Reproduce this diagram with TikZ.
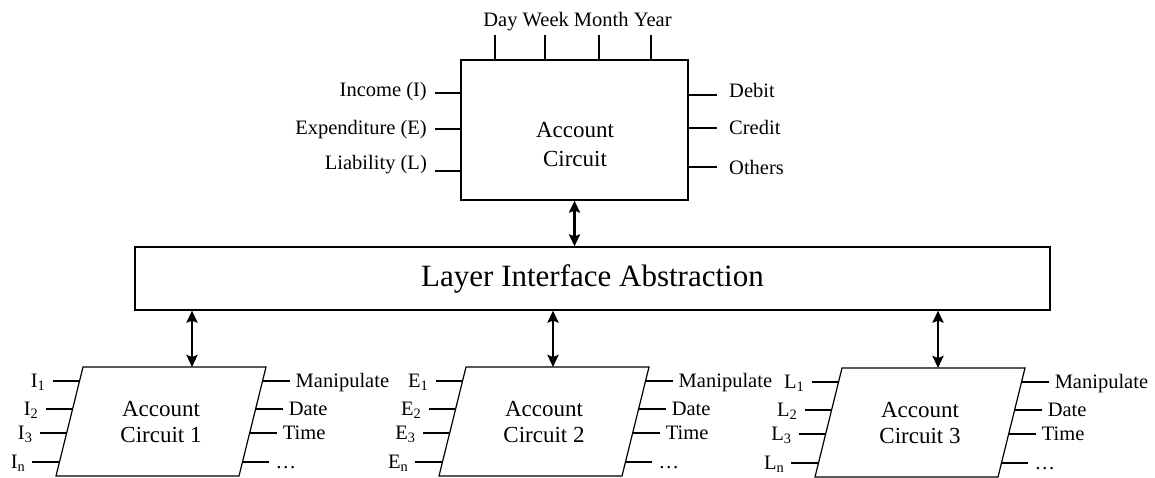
\documentclass[tikz,border=0pt]{standalone}
\usepackage{fontspec}
\setmainfont{Liberation Serif}
\usetikzlibrary{calc,arrows.meta}
\begin{document}
\begin{tikzpicture}[x=1pt,y=-1pt,
  box/.style={draw,line width=1.2pt,inner sep=0pt},
  wire/.style={line width=1.2pt},
  tip/.style={Stealth[length=12pt,width=11pt,inset=2pt]},
  link/.style={line width=2.5pt,{Stealth[length=12pt,width=11pt,inset=2pt]}-{Stealth[length=12pt,width=11pt,inset=2pt]}},
  lbl/.style={font=\fontsize{20.5}{24}\selectfont,inner sep=0pt},
  title/.style={font=\fontsize{23}{29}\selectfont,inner sep=0pt},
]
\useasboundingbox (0,0) rectangle (1155,478);

% ---------- top-level account circuit ----------
\node[box,minimum width=227pt,minimum height=140pt] (acbox) at (574.5,130) {};
\node[title,anchor=base] (actxt1) at (575,138) {Account};
\node[title,anchor=base] (actxt2) at (575,167) {Circuit};

% period inputs on top
\foreach \x [count=\k] in {495,545,599,651} {
  \coordinate (tk\k) at (\x,60);
  \draw[wire] (tk\k) -- ++(0,-25);
}
\node[lbl,anchor=base] (period) at (577.5,27) {Day Week Month Year};

% inputs on the left
\foreach \y/\b/\t [count=\k] in {93/97/Income (I),129/135/Expenditure (E),171/170/Liability (L)} {
  \coordinate (ain\k) at (461,\y);
  \draw[wire] (ain\k) -- ++(-26,0) coordinate (aine\k);
  \node[lbl,anchor=base east] (ainl\k) at (427,\b) {\t};
}
% outputs on the right
\foreach \y/\b/\t [count=\k] in {95/98/Debit,128/135/Credit,167/175/Others} {
  \coordinate (aout\k) at (688,\y);
  \draw[wire] (aout\k) -- ++(29,0) coordinate (aoute\k);
  \node[lbl,anchor=base west] (aoutl\k) at (729,\b) {\t};
}

% ---------- interface layer ----------
\node[box,minimum width=915pt,minimum height=63pt,
      font=\fontsize{31}{36}\selectfont] (layer) at (592.5,278.5) {Layer Interface Abstraction};

\draw[link] (acbox.south) -- (acbox.south |- layer.north);

% ---------- sub circuits ----------
\foreach \n/\tx/\ty/\ax/\L in {1/83/367/192/I,2/466/367/553/E,3/842/368/938/L} {
  \coordinate (p\n tl) at (\tx,\ty);
  \coordinate (p\n tr) at ($(p\n tl)+(183,0)$);
  \coordinate (p\n br) at ($(p\n tl)+(156,109)$);
  \coordinate (p\n bl) at ($(p\n tl)+(-27,109)$);
  \draw[box] (p\n tl) -- (p\n tr) -- (p\n br) -- (p\n bl) -- cycle;
  \coordinate (p\n c) at ($(p\n tl)+(78,0)$);
  \node[title,anchor=base] (p\n t1) at ($(p\n c)+(0,49)$) {Account};
  \node[title,anchor=base] (p\n t2) at ($(p\n c)+(0,75)$) {Circuit \n};
  % link to the interface layer
  \coordinate (p\n a) at (\ax,\ty);
  \draw[link] (p\n a |- layer.south) -- (p\n a);
  % inputs
  \foreach \d/\s [count=\k] in {14/1,42/2,66/3,95/n} {
    \pgfmathsetmacro{\dx}{-27*\d/109}
    \coordinate (p\n i\k) at ($(p\n tl)+(\dx,\d)$);
    \draw[wire] (p\n i\k) -- ++(-27,0) coordinate (p\n ie\k);
    \node[lbl,anchor=base east] (p\n il\k) at ($(p\n ie\k)+(-7,6)$) {\L\textsubscript{\s}};
  }
  % outputs
  \foreach \d/\s [count=\k] in {14/Manipulate,42/Date,66/Time,95/\dots} {
    \pgfmathsetmacro{\dx}{183-27*\d/109}
    \coordinate (p\n o\k) at ($(p\n tl)+(\dx,\d)$);
    \draw[wire] (p\n o\k) -- ++(27,0) coordinate (p\n oe\k);
    \node[lbl,anchor=base west] (p\n ol\k) at ($(p\n oe\k)+(6,6)$) {\s};
  }
}
\end{tikzpicture}
\end{document}
